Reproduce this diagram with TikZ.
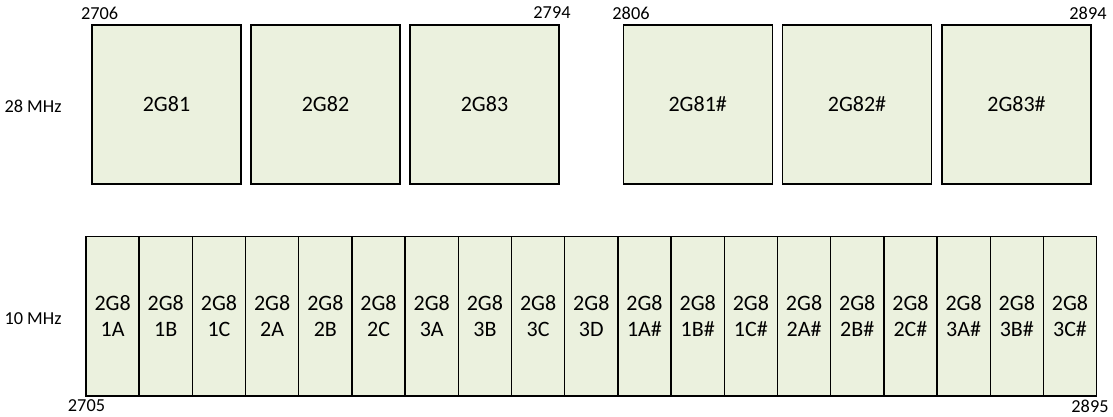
\documentclass[tikz,border=0pt]{standalone}
\usepackage{fontspec}
\setmainfont{Carlito}
\definecolor{boxfill}{HTML}{EBF1DE}
\tikzset{
  bigbox/.style={draw=black, line width=1.4pt, fill=boxfill, minimum width=149pt, minimum height=159pt, inner sep=0pt, font=\fontsize{22}{26}\selectfont},
  slotbox/.style={draw=black, line width=1.4pt, fill=boxfill, minimum width=53.19pt, minimum height=159.3pt, inner sep=0pt, align=center, font=\fontsize{22}{26}\selectfont},
  lbl/.style={inner sep=0pt, font=\fontsize{18.3}{22}\selectfont}
}
\begin{document}
\begin{tikzpicture}[x=1pt,y=-1pt]
\useasboundingbox (0,0) rectangle (1113,416);
% top row
\node[bigbox] (a1) at (166.5,104.5) {2G81};
\node[bigbox] (a2) at (325.5,104.5) {2G82};
\node[bigbox] (a3) at (484.5,104.5) {2G83};
\node[bigbox] (b1) at (697.7,104.5) {2G81\#};
\node[bigbox] (b2) at (857.0,104.5) {2G82\#};
\node[bigbox] (b3) at (1016.5,104.5) {2G83\#};
% bottom row
\foreach \t [count=\i from 0] in {1A,1B,1C,2A,2B,2C,3A,3B,3C,3D,1A\#,1B\#,1C\#,2A\#,2B\#,2C\#,3A\#,3B\#,3C\#}{
  \node[slotbox] (s\i) at ({86+53.19*(\i+0.5)},316.4) {2G8\\\t};
}
% labels
\node[lbl] (l2706) at (99.7,13) {2706};
\node[lbl] (l2794) at (552,13) {2794};
\node[lbl] (l2806) at (631,13) {2806};
\node[lbl] (l2894) at (1088,13) {2894};
\node[lbl] (l28) at (33,106) {28 MHz};
\node[lbl] (l10) at (33,318.5) {10 MHz};
\node[lbl] (l2705) at (86.5,406) {2705};
\node[lbl] (l2895) at (1090,406) {2895};
\end{tikzpicture}
\end{document}
